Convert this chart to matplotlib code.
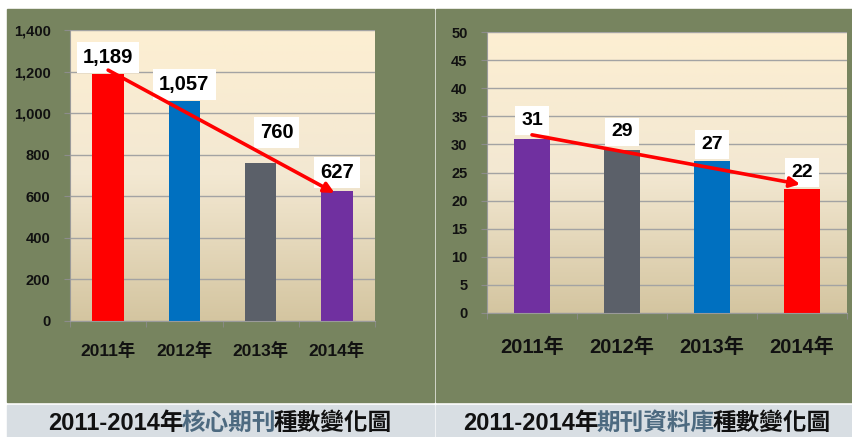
import numpy as np
import matplotlib
matplotlib.use("Agg")
import matplotlib.pyplot as plt
from matplotlib.patches import Rectangle
from matplotlib.ticker import FuncFormatter

plt.rcParams['font.family'] = ['Liberation Sans', 'Noto Sans CJK TC', 'DejaVu Sans']
plt.rcParams['font.weight'] = 'bold'

# data
years = ['2011年', '2012年', '2013年', '2014年']
core_counts = [1189, 1057, 760, 627]
core_colors = ['#ff0000', '#0070c0', '#5b6069', '#7030a0']
core_trend = [(0.0, 1207), (2.97, 616)]

db_counts = [31, 29, 27, 22]
db_colors = ['#7030a0', '#5b6069', '#0070c0', '#ff0000']
db_trend = [(0.0, 31.7), (2.98, 22.9)]

left_title = [('2011-2014年', '#111111'), ('核心期刊', '#4d6a80'), ('種數變化圖', '#111111')]
right_title = [('2011-2014年', '#111111'), ('期刊資料庫', '#4d6a80'), ('種數變化圖', '#111111')]

W, H = 852, 437
GREEN = '#77845f'
fig = plt.figure(figsize=(W / 100, H / 100), dpi=100, facecolor='white')


def px_rect(x0, y0, x1, y1, color):
    fig.patches.append(Rectangle((x0 / W, 1 - y1 / H), (x1 - x0) / W, (y1 - y0) / H,
                                 transform=fig.transFigure, color=color, zorder=-10))


px_rect(7, 9, 434, 402, GREEN)
px_rect(436, 9, W, 402, GREEN)
px_rect(7, 405, 434, H, '#d8dee3')
px_rect(436, 405, W, H, '#d8dee3')

grad = np.linspace(0, 1, 256).reshape(-1, 1)
cmap = matplotlib.colors.LinearSegmentedColormap.from_list('bg', ['#fdefd2', '#f3e8d2', '#d4c5a0'])


def make_panel(rect, counts, colors, ymax, ystep, trend, fmt, xsize, vsize, xpad, offsets):
    ax = fig.add_axes(rect)
    ax.imshow(grad, cmap=cmap, extent=[-0.5, 3.5, 0, ymax], aspect='auto', zorder=0)
    x = np.arange(len(counts))
    ax.bar(x, counts, width=0.41, color=colors, zorder=2)
    ax.set_xlim(-0.5, 3.5)
    ax.set_ylim(0, ymax)
    ax.set_yticks(np.arange(0, ymax + 1, ystep))
    ax.yaxis.set_major_formatter(FuncFormatter(fmt))
    ax.set_xticks(x)
    ax.set_xticklabels(years, fontsize=xsize, fontweight='bold', color='#111111')
    ax.set_xticks(np.arange(-0.5, 3.6, 1), minor=True)
    ax.tick_params(axis='x', which='major', length=0, pad=xpad)
    ax.tick_params(axis='x', which='minor', length=4, color='#8c8c8c')
    ax.tick_params(axis='y', length=4, color='#8c8c8c', pad=10, labelsize=10.5, labelcolor='#111111')
    for lab in ax.get_yticklabels():
        lab.set_fontweight('bold')
    ax.grid(axis='y', color='#a3a3a3', linewidth=1, zorder=1)
    for s in ['top', 'right']:
        ax.spines[s].set_visible(False)
    for s in ['left', 'bottom']:
        ax.spines[s].set_color('#9a9a9a')
    for xi, v, off in zip(x, counts, offsets):
        ax.annotate(f'{v:,}', xy=(xi, v), xytext=off, textcoords='offset points',
                    ha='center', va='center', fontsize=vsize, fontweight='bold', color='black',
                    bbox=dict(boxstyle='square,pad=0.3', fc='white', ec='none'), zorder=4)
    ax.annotate('', xy=trend[1], xytext=trend[0],
                arrowprops=dict(arrowstyle='-|>', color='#ff0000', lw=2.6, mutation_scale=15,
                                shrinkA=0, shrinkB=0), zorder=5)
    return ax


make_panel([70 / W, 1 - 321 / H, 305 / W, 291 / H], core_counts, core_colors, 1400, 200,
           core_trend, lambda v, p: f'{int(v):,}', 12.5, 14.5, 15,
           [(0, 12), (0, 12), (11.5, 22), (0, 13)])
make_panel([487 / W, 1 - 313 / H, 360 / W, 281 / H], db_counts, db_colors, 50, 5,
           db_trend, lambda v, p: f'{int(v)}', 14.5, 14, 18,
           [(0, 13), (0, 13), (0, 12), (0, 12)])

renderer = fig.canvas.get_renderer()


def caption(pieces, x0, yc):
    xcur = x0
    for txt, col in pieces:
        t = fig.text(xcur / W, 1 - yc / H, txt, color=col, fontsize=17, fontweight='bold',
                     ha='left', va='center')
        bb = t.get_window_extent(renderer)
        xcur += bb.width - 2


caption(left_title, 48, 423)
caption(right_title, 463, 423)

fig.savefig('out.png', dpi=100, facecolor='white')
